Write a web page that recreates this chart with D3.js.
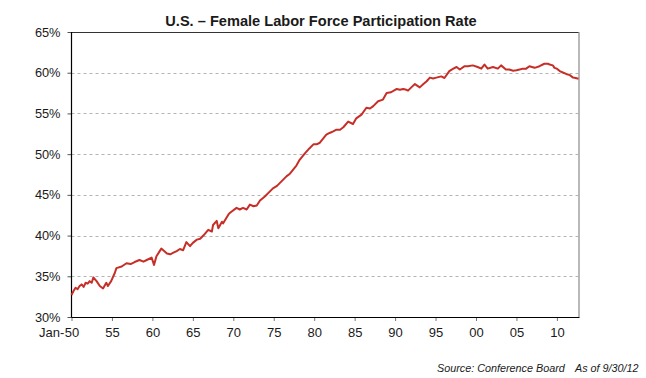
<!DOCTYPE html>
<html>
<head>
<meta charset="utf-8">
<script src="https://cdn.jsdelivr.net/npm/d3@7"></script>
<style>
  html, body { margin: 0; padding: 0; background: #fff; }
  svg { display: block; font-family: "Liberation Sans", Arial, sans-serif; }
</style>
</head>
<body>
<svg id="chart" width="646" height="378"></svg>
<script>
// ---- Data ----
const years = [
  1950.0, 1950.25, 1950.5, 1950.75, 1951.0, 1951.25, 1951.5, 1951.75, 1952.0, 1952.25,
  1952.5, 1952.7, 1953.1, 1953.5, 1953.9, 1954.3, 1954.5, 1954.9, 1955.35, 1955.55,
  1956.2, 1956.8, 1957.3, 1957.8, 1958.4, 1958.9, 1959.3, 1959.9, 1960.2, 1960.5,
  1961.1, 1961.8, 1962.2, 1962.6, 1963.0, 1963.4, 1963.8, 1964.2, 1964.65, 1965.0,
  1965.5, 1965.9, 1966.3, 1966.9, 1967.35, 1967.5, 1967.95, 1968.15, 1968.6, 1968.75,
  1969.4, 1969.6, 1970.4, 1970.8, 1971.2, 1971.65, 1972.05, 1972.5, 1972.9, 1973.3,
  1973.9, 1974.5, 1974.9, 1975.4, 1975.8, 1976.2, 1976.6, 1977.0, 1977.4, 1977.8,
  1978.2, 1978.85, 1979.4, 1979.9, 1980.3, 1980.7, 1981.1, 1981.5, 1981.9, 1982.35,
  1982.75, 1983.2, 1983.6, 1984.2, 1984.8, 1985.2, 1985.85, 1986.45, 1986.9, 1987.3,
  1987.9, 1988.5, 1988.95, 1989.5, 1990.0, 1990.2, 1990.6, 1991.0, 1991.4, 1991.6,
  1992.0, 1992.45, 1993.05, 1993.5, 1993.9, 1994.3, 1994.7, 1995.1, 1995.7, 1996.1,
  1996.7, 1997.2, 1997.6, 1998.0, 1998.6, 1999.0, 1999.6, 2000.2, 2000.65, 2001.05,
  2001.45, 2002.1, 2002.7, 2003.1, 2003.7, 2004.1, 2004.6, 2005.0, 2005.4, 2005.8,
  2006.2, 2006.6, 2007.25, 2007.85, 2008.45, 2008.9, 2009.1, 2009.5, 2009.7, 2010.0,
  2010.35, 2010.8, 2011.15, 2011.6, 2012.0, 2012.3, 2012.67
];
const rate = [
  32.7, 33.2, 33.6, 33.4, 33.8, 34.0, 33.7, 34.2, 34.1, 34.4,
  34.2, 34.85, 34.4, 33.8, 33.5, 34.2, 33.8, 34.4, 35.4, 36.0,
  36.2, 36.6, 36.5, 36.75, 37.0, 36.8, 37.0, 37.3, 36.4, 37.45,
  38.4, 37.8, 37.7, 37.9, 38.1, 38.35, 38.2, 39.2, 38.7, 39.1,
  39.5, 39.6, 40.0, 40.7, 40.5, 41.3, 41.8, 40.9, 41.7, 41.5,
  42.6, 42.8, 43.4, 43.2, 43.4, 43.2, 43.8, 43.6, 43.7, 44.3,
  44.8, 45.4, 45.8, 46.1, 46.5, 46.9, 47.3, 47.6, 48.1, 48.6,
  49.3, 50.1, 50.7, 51.2, 51.2, 51.4, 51.9, 52.4, 52.6, 52.8,
  53.0, 53.0, 53.3, 54.0, 53.7, 54.4, 54.85, 55.7, 55.6, 55.9,
  56.5, 56.7, 57.5, 57.6, 57.9, 58.0, 57.9, 58.0, 57.9, 57.8,
  58.2, 58.6, 58.2, 58.6, 58.95, 59.4, 59.3, 59.4, 59.55, 59.35,
  60.2, 60.5, 60.7, 60.4, 60.8, 60.8, 60.9, 60.7, 60.5, 61.0,
  60.5, 60.7, 60.5, 60.9, 60.4, 60.4, 60.25, 60.3, 60.4, 60.5,
  60.5, 60.8, 60.6, 60.8, 61.1, 61.1, 61.0, 60.9, 60.6, 60.5,
  60.2, 60.0, 59.85, 59.7, 59.4, 59.35, 59.25
];
const yTicks = [30, 35, 40, 45, 50, 55, 60, 65];
const yTickLabels = ["30%", "35%", "40%", "45%", "50%", "55%", "60%", "65%"];
const xTicks = [1950, 1955, 1960, 1965, 1970, 1975, 1980, 1985, 1990, 1995, 2000, 2005, 2010];
const xTickLabels = ["50", "55", "60", "65", "70", "75", "80", "85", "90", "95", "00", "05", "10"];
const title = "U.S. \u2013 Female Labor Force Participation Rate";
const sourceText = "Source: Conference Board";
const asOfText = "As of 9/30/12";

// ---- Layout ----
const svg = d3.select("#chart");
const L = 71.5, R = 578.5, T = 32, B = 317;

const x = d3.scaleLinear().domain([1950, 2012.67]).range([L, R]);
const y = d3.scaleLinear().domain([30, 65]).range([B, T]);

// Title
svg.append("text")
  .attr("x", 321).attr("y", 26)
  .attr("text-anchor", "middle")
  .attr("font-size", "14.6px").attr("font-weight", "bold")
  .attr("fill", "#1a1a1a")
  .text(title);

// Gridlines
svg.append("g").selectAll("line")
  .data(yTicks.filter(d => d > 30 && d < 65))
  .join("line")
  .attr("x1", L).attr("x2", R)
  .attr("y1", d => Math.round(y(d)) + 0.5).attr("y2", d => Math.round(y(d)) + 0.5)
  .attr("stroke", "#b4b4b4").attr("stroke-width", 1)
  .attr("stroke-dasharray", "3,3");

// Y axis
const yAxis = d3.axisLeft(y)
  .tickValues(yTicks)
  .tickFormat((d, i) => yTickLabels[i])
  .tickSize(4).tickPadding(7);
const gy = svg.append("g").attr("transform", `translate(${L},0)`).call(yAxis);
gy.select(".domain").remove();
gy.selectAll(".tick line").attr("stroke", "#555");
gy.selectAll(".tick text")
  .attr("font-size", "12.8px").attr("fill", "#1a1a1a")
  .attr("font-family", "'Liberation Sans', Arial, sans-serif");

// X axis
const xAxis = d3.axisBottom(x)
  .tickValues(xTicks)
  .tickFormat((d, i) => xTickLabels[i])
  .tickSize(4).tickPadding(7);
const gx = svg.append("g").attr("transform", `translate(0,${B})`).call(xAxis);
gx.select(".domain").remove();
gx.selectAll(".tick line").attr("stroke", "#777");
gx.selectAll(".tick text")
  .attr("font-size", "13px").attr("fill", "#1a1a1a")
  .attr("font-family", "'Liberation Sans', Arial, sans-serif");
// Prefix "Jan-" for the first label, keeping "50" centred on the tick
gx.selectAll(".tick").filter((d, i) => i === 0).select("text")
  .text(null)
  .call(t => {
    t.append("tspan").attr("text-anchor", "end").text("Jan-");
  })
  .each(function() {
    const t = d3.select(this);
    t.attr("text-anchor", "middle");
  });
// rebuild first label simply: "Jan-" ending at left of "50"
{
  const first = gx.selectAll(".tick").filter((d, i) => i === 0);
  const txt = first.select("text");
  txt.selectAll("tspan").remove();
  txt.text("50");
  const w = txt.node().getComputedTextLength();
  first.append("text")
    .attr("x", -w / 2 - 0.5).attr("y", txt.attr("y")).attr("dy", txt.attr("dy"))
    .attr("text-anchor", "end").attr("fill", "#1a1a1a")
    .attr("font-size", "13px")
    .attr("font-family", "'Liberation Sans', Arial, sans-serif")
    .text("Jan-");
}

// Plot frame
svg.append("line").attr("x1", R + 0.5).attr("x2", R + 0.5).attr("y1", T).attr("y2", B)
  .attr("stroke", "#a8a8a8").attr("stroke-width", 1.6);
svg.append("line").attr("x1", L).attr("x2", R).attr("y1", T + 0.5).attr("y2", T + 0.5)
  .attr("stroke", "#333").attr("stroke-width", 1);
svg.append("line").attr("x1", L).attr("x2", L).attr("y1", T).attr("y2", B + 0.5)
  .attr("stroke", "#000").attr("stroke-width", 1.2);
svg.append("line").attr("x1", L).attr("x2", R + 1).attr("y1", B + 0.5).attr("y2", B + 0.5)
  .attr("stroke", "#000").attr("stroke-width", 1.2);

// Line
const pts = years.map((yr, i) => [yr, rate[i]]);
svg.append("path")
  .datum(pts)
  .attr("fill", "none")
  .attr("stroke", "#c62f27")
  .attr("stroke-width", 2)
  .attr("stroke-linejoin", "round")
  .attr("d", d3.line().x(d => x(d[0])).y(d => y(d[1])));

// Source note
svg.append("text")
  .attr("x", 437).attr("y", 372)
  .attr("font-size", "10.8px").attr("font-style", "italic").attr("fill", "#1a1a1a")
  .text(sourceText);
svg.append("text")
  .attr("x", 575).attr("y", 372)
  .attr("font-size", "10.8px").attr("font-style", "italic").attr("fill", "#1a1a1a")
  .text(asOfText);
</script>
</body>
</html>
